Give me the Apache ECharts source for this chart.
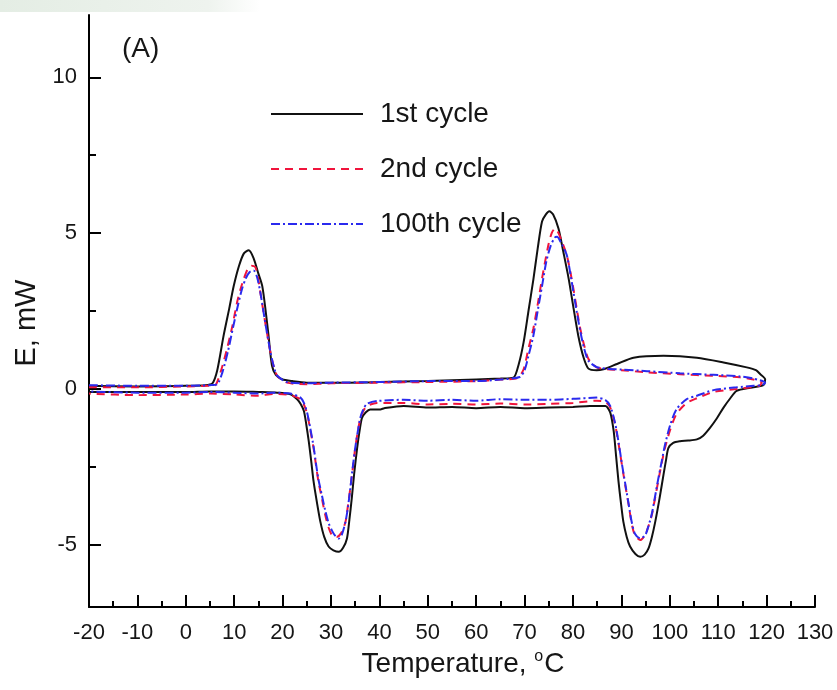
<!DOCTYPE html>
<html>
<head>
<meta charset="utf-8">
<script src="https://cdn.jsdelivr.net/npm/echarts@6/dist/echarts.min.js"></script>
<style>
html,body{margin:0;padding:0;background:#fff;}
#chart{width:837px;height:690px;}
</style>
</head>
<body>
<div id="chart"></div>
<script>
// ---------- data ----------
const seriesNames = ['1st cycle', '2nd cycle', '100th cycle'];
const xTicks = [-20, -10, 0, 10, 20, 30, 40, 50, 60, 70, 80, 90, 100, 110, 120, 130];
const yTickLabels = [-5, 0, 5, 10];
const yMinorTicks = [-2.5, 2.5, 7.5];

// 1st cycle: heating branch (left to right) then cooling branch (right to left)
const cycle1T = [-20, -10, 0, 4, 5.5, 6.5, 7.8, 9, 9.9, 11, 12, 13, 14, 15, 15.8, 16.5, 17.1, 17.8, 18.6, 19.9, 22, 25, 30, 40, 50, 60, 65, 67.7, 68.8, 69.8, 70.8, 71.8, 72.7, 73.6, 74.4, 75.1, 75.9, 77.0, 78, 79.1, 80.1, 81.1, 82.2, 83.2, 84.9, 86.3, 87.5, 89.1, 92.5, 98.7, 105.6, 111.1, 115.9, 117.8, 118.7, 119.7,
  119.5, 119, 116.6, 113.8, 112.5, 111.1, 109.7, 108.3, 106.9, 105.6, 103.8, 102.1, 100.7, 99.7, 99.2, 98.7, 97.9, 97, 96.3, 95.6, 94.8, 93.9, 92.9, 91.8, 91.1, 90.4, 89.9, 89.4, 88.9, 88.4, 87.7, 86.7, 83.5, 80, 75, 70, 65, 60, 55, 50, 45, 41, 40.2, 38.1, 37.2, 36.4, 35.9, 35.4, 34.8, 34.3, 33.8, 33.3, 32.5, 31.6, 30.5, 29.5, 28.6, 27.8, 27.1, 26.4, 25.9, 25.4, 24.9, 24.4, 23.7, 23, 21.6, 18.9, 15, 10, 5, 0, -10, -20];
const cycle1E = [0.1, 0.08, 0.1, 0.12, 0.18, 0.6, 1.7, 2.6, 3.3, 3.95, 4.35, 4.45, 4.2, 3.7, 3.3, 2.5, 1.7, 0.75, 0.45, 0.31, 0.25, 0.2, 0.2, 0.22, 0.25, 0.3, 0.33, 0.36, 0.8, 1.5, 2.5, 3.5, 4.5, 5.37, 5.6, 5.7, 5.6, 5.15, 4.4, 3.54, 2.6, 1.7, 1.0, 0.65, 0.6, 0.63, 0.7, 0.8, 1.0, 1.06, 1.0, 0.85, 0.69, 0.6, 0.47, 0.31,
  0.15, 0.1, 0.04, -0.06, -0.3, -0.6, -0.95, -1.25, -1.5, -1.62, -1.66, -1.68, -1.73, -1.9, -2.3, -2.75, -3.5, -4.26, -4.75, -5.12, -5.32, -5.39, -5.3, -5.06, -4.75, -4.26, -3.65, -2.97, -2.15, -1.35, -0.76, -0.55, -0.55, -0.58, -0.6, -0.62, -0.58, -0.62, -0.58, -0.6, -0.55, -0.62, -0.66, -0.66, -0.75, -0.93, -1.35, -1.9, -2.7, -3.5, -4.2, -4.8, -5.1, -5.23, -5.18, -5.06, -4.75, -4.26, -3.65, -2.97, -2.3, -1.68, -1.15, -0.71, -0.48, -0.33, -0.17, -0.12, -0.1, -0.08, -0.08, -0.1, -0.1, -0.1];

// 2nd cycle
const cycle2T = [-20, -10, 0, 5, 6.1, 7.3, 8.5, 9.6, 10.6, 11.3, 12, 12.8, 13.6, 14.4, 15, 15.4, 16.4, 17.5, 18.2, 18.9, 20.9, 25, 30, 40, 50, 60, 65, 68.5, 69.8, 70.8, 71.8, 72.7, 73.6, 74.9, 75.6, 76.3, 77, 77.8, 78.7, 79.4, 80.1, 80.8, 81.5, 82.3, 83.2, 84.9, 87, 90, 95.3, 102.1, 109, 114.5, 117.3, 119,
  118.5, 117.3, 113.8, 109, 105.6, 103.5, 101.4, 100.1, 99.0, 98.3, 97.6, 96.9, 96.3, 95.6, 94.9, 93.9, 92.8, 92.1, 91.5, 90.8, 90.1, 89.4, 88.7, 87.7, 86.7, 84.9, 80, 75, 70, 65, 60, 55, 50, 45, 39.5, 37.4, 36.7, 36.1, 35.5, 35.0, 34.5, 34.0, 33.5, 33.0, 32.2, 31.2, 30.2, 29.5, 28.8, 28.1, 27.4, 26.9, 26.4, 25.7, 25.1, 24.4, 23.7, 21.6, 18, 15, 10, 5, 0, -10, -20];
const cycle2E = [0.05, 0.05, 0.08, 0.1, 0.12, 0.6, 1.28, 2.0, 2.78, 3.2, 3.54, 3.85, 3.95, 3.9, 3.5, 3.1, 2.14, 1.17, 0.7, 0.42, 0.2, 0.15, 0.18, 0.2, 0.22, 0.25, 0.3, 0.35, 0.63, 1.3, 1.93, 2.7, 3.54, 4.61, 5.0, 5.15, 5.0, 4.7, 4.3, 3.8, 3.2, 2.55, 1.93, 1.4, 0.96, 0.69, 0.63, 0.6, 0.53, 0.47, 0.42, 0.37, 0.3, 0.2,
  0.1, 0.06, 0.0, -0.1, -0.3, -0.45, -0.8, -1.3, -1.9, -2.4, -2.97, -3.55, -4.04, -4.4, -4.69, -4.85, -4.7, -4.3, -3.72, -3.1, -2.43, -1.75, -1.14, -0.6, -0.42, -0.38, -0.45, -0.48, -0.5, -0.47, -0.5, -0.48, -0.5, -0.45, -0.45, -0.55, -0.7, -0.93, -1.4, -1.9, -2.55, -3.18, -3.75, -4.26, -4.6, -4.75, -4.69, -4.45, -4.04, -3.5, -2.97, -2.45, -1.9, -1.3, -0.82, -0.5, -0.33, -0.2, -0.16, -0.22, -0.18, -0.15, -0.18, -0.2, -0.15];

// 100th cycle
const cycle100T = [-20, -10, 0, 5, 6.5, 7.5, 8.7, 9.8, 10.8, 11.6, 12.4, 13.2, 14, 14.7, 15.4, 16.4, 17.5, 18.3, 18.9, 20.9, 25, 30, 40, 50, 60, 65, 69, 70, 70.8, 71.8, 72.7, 73.6, 74.5, 75.4, 76.2, 76.7, 77.5, 78.7, 79.4, 80.1, 80.8, 81.5, 82.3, 83.2, 84.9, 87, 90, 95.3, 102.1, 109, 114.5, 117.3, 119.7,
  119, 117.3, 113.8, 109, 105.6, 103.5, 101.4, 100.1, 99.0, 98.3, 97.6, 96.9, 96.3, 95.6, 94.9, 93.9, 92.8, 92.1, 91.5, 90.8, 90.1, 89.4, 88.7, 87.7, 86.7, 84.9, 80, 75, 70, 65, 60, 55, 50, 45, 39.5, 37.4, 36.7, 36.1, 35.5, 35.0, 34.5, 34.0, 33.5, 33.0, 32.3, 31.6, 30.8, 30.2, 29.5, 28.8, 28.1, 27.4, 26.9, 26.4, 25.7, 25.1, 24.4, 23.7, 21.6, 18, 15, 10, 5, 0, -10, -20];
const cycle100E = [0.12, 0.1, 0.1, 0.12, 0.15, 0.5, 1.2, 2.0, 2.7, 3.2, 3.55, 3.75, 3.8, 3.6, 3.1, 2.14, 1.17, 0.65, 0.42, 0.22, 0.18, 0.2, 0.22, 0.25, 0.25, 0.3, 0.38, 0.6, 1.06, 1.7, 2.5, 3.3, 4.1, 4.6, 4.85, 4.88, 4.7, 4.3, 3.75, 3.1, 2.45, 1.85, 1.3, 0.9, 0.7, 0.65, 0.62, 0.57, 0.5, 0.45, 0.4, 0.33, 0.2,
  0.12, 0.1, 0.05, -0.04, -0.22, -0.33, -0.65, -1.15, -1.8, -2.35, -2.9, -3.5, -4.0, -4.4, -4.7, -4.8, -4.65, -4.25, -3.7, -3.05, -2.4, -1.7, -1.1, -0.55, -0.36, -0.28, -0.32, -0.35, -0.35, -0.33, -0.38, -0.35, -0.38, -0.35, -0.39, -0.48, -0.65, -0.9, -1.4, -1.9, -2.5, -3.18, -3.8, -4.26, -4.65, -4.8, -4.7, -4.55, -4.3, -3.9, -3.4, -2.9, -2.4, -1.85, -1.25, -0.78, -0.45, -0.28, -0.15, -0.12, -0.15, -0.12, -0.1, -0.12, -0.12, -0.08];

// ---------- chart ----------
const FONT = '"Liberation Sans", Arial, Helvetica, sans-serif';
const TXT = '#161616';
function zip(xs, ys) { return xs.map((x, i) => [x, ys[i]]); }

const chart = echarts.init(document.getElementById('chart'), null, { renderer: 'canvas' });
chart.setOption({
  backgroundColor: '#ffffff',
  animation: false,
  textStyle: { fontFamily: FONT },
  graphic: [{
    type: 'rect', left: 0, top: 0, z: -10,
    shape: { width: 260, height: 12 },
    style: {
      fill: new echarts.graphic.LinearGradient(0, 0, 1, 0, [
        { offset: 0, color: '#e4ede4' }, { offset: 0.8, color: '#eef3ee' }, { offset: 1, color: '#ffffff' }
      ])
    }
  }],
  title: {
    text: '(A)', left: 117, top: 30,
    textStyle: { fontSize: 28, fontWeight: 'normal', color: TXT, fontFamily: FONT }
  },
  legend: {
    orient: 'vertical', left: 265, top: 94,
    itemWidth: 92, itemHeight: 14, itemGap: 25,
    data: seriesNames,
    itemStyle: { color: 'rgba(0,0,0,0)', borderWidth: 0, opacity: 0 },
    lineStyle: { width: 2 },
    textStyle: { fontSize: 28, lineHeight: 30, color: TXT, fontFamily: FONT, padding: [0, 0, 0, 12] }
  },
  grid: { left: 89, right: 22, top: 15, bottom: 83, containLabel: false },
  xAxis: {
    type: 'value', min: xTicks[0], max: xTicks[xTicks.length - 1], interval: 10,
    name: 'Temperature, {sup|o}C',
    nameLocation: 'middle', nameGap: 42,
    nameTextStyle: {
      fontSize: 28, color: TXT, fontFamily: FONT, padding: [0, 0, 0, 22],
      rich: { sup: { fontSize: 16, verticalAlign: 'top', padding: [0, 1, 14, 0], color: TXT, fontFamily: FONT } }
    },
    axisLine: { show: true, onZero: false, lineStyle: { color: '#000', width: 2 } },
    axisTick: { show: true, inside: true, length: 12, lineStyle: { color: '#000', width: 2 } },
    minorTick: { show: true, splitNumber: 2, length: 6, lineStyle: { color: '#000', width: 2 } },
    axisLabel: { fontSize: 22, color: TXT, fontFamily: FONT, margin: 15 },
    splitLine: { show: false }
  },
  yAxis: [{
    type: 'value', min: -7, max: 12, position: 'left',
    name: 'E, mW', nameLocation: 'middle', nameGap: 46, nameRotate: 90,
    nameTextStyle: { fontSize: 29, color: TXT, fontFamily: FONT, padding: [0, 24, 0, 0] },
    axisLine: { show: true, onZero: false, lineStyle: { color: '#000', width: 2 } },
    axisTick: { show: true, inside: true, length: 12, customValues: yTickLabels, lineStyle: { color: '#000', width: 2 } },
    axisLabel: { customValues: yTickLabels, fontSize: 22, color: TXT, fontFamily: FONT, margin: 12 },
    splitLine: { show: false }
  }, {
    type: 'value', min: -7, max: 12, position: 'left',
    axisLine: { show: false, onZero: false },
    axisTick: { show: true, inside: true, length: 7, customValues: yMinorTicks, lineStyle: { color: '#000', width: 2 } },
    axisLabel: { show: false },
    splitLine: { show: false }
  }],
  series: [{
    name: seriesNames[0], type: 'line', yAxisIndex: 0, symbol: 'none', smooth: 0.25,
    data: zip(cycle1T, cycle1E),
    lineStyle: { color: '#111111', width: 2, type: 'solid' },
    itemStyle: { color: '#111111' }, z: 3
  }, {
    name: seriesNames[1], type: 'line', yAxisIndex: 0, symbol: 'none', smooth: 0.25,
    data: zip(cycle2T, cycle2E),
    lineStyle: { color: '#f0143c', width: 2, type: [8, 6] },
    itemStyle: { color: '#f0143c' }, z: 4
  }, {
    name: seriesNames[2], type: 'line', yAxisIndex: 0, symbol: 'none', smooth: 0.25,
    data: zip(cycle100T, cycle100E),
    lineStyle: { color: '#2a2aee', width: 2, type: [9, 3, 2, 3] },
    itemStyle: { color: '#2a2aee' }, z: 5
  }]
});
</script>
</body>
</html>
